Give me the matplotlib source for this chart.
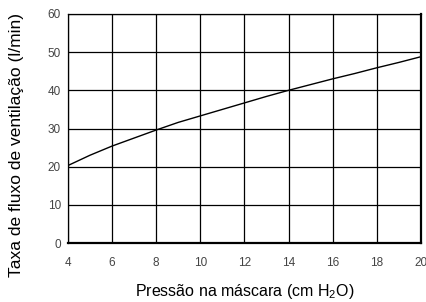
import matplotlib
matplotlib.use("Agg")
import matplotlib.pyplot as plt

# curve
pressure = [4, 5, 6, 7, 8, 9, 10, 11, 12, 13, 14, 15, 16, 17, 18, 19, 20]
flow = [20.3, 23.0, 25.4, 27.5, 29.6, 31.6, 33.3, 35.0, 36.7, 38.4, 40.0, 41.5, 43.0, 44.4, 45.9, 47.3, 48.8]

x_ticks = [4, 6, 8, 10, 12, 14, 16, 18, 20]
y_ticks = [0, 10, 20, 30, 40, 50, 60]

plt.rcParams["font.family"] = ["Liberation Sans", "DejaVu Sans"]
plt.rcParams["mathtext.default"] = "regular"

fig = plt.figure(figsize=(4.27, 3.02), dpi=100)
ax = fig.add_axes([0.159, 0.195, 0.827, 0.759])

ax.plot(pressure, flow, color="black", linewidth=1.0)

ax.set_xlim(4, 20)
ax.set_ylim(0, 60)
ax.set_xticks(x_ticks)
ax.set_yticks(y_ticks)
ax.grid(True, color="black", linewidth=0.9)
ax.tick_params(length=0, labelsize=8.5, labelcolor="#444444")
ax.tick_params(axis="y", pad=5)
ax.tick_params(axis="x", pad=10)

for side in ["top", "left"]:
    ax.spines[side].set_linewidth(0.9)
for side in ["bottom", "right"]:
    ax.spines[side].set_linewidth(1.6)

ax.set_xlabel("Pressão na máscara (cm H$_2$O)", fontsize=11.5)
ax.xaxis.set_label_coords(0.5, -0.212)
ax.xaxis.label.set_va("center")
ax.set_ylabel("Taxa de fluxo de ventilação (l/min)", fontsize=12.5)
ax.yaxis.set_label_coords(-0.125, 0.43)

fig.savefig("out.png", dpi=100)
